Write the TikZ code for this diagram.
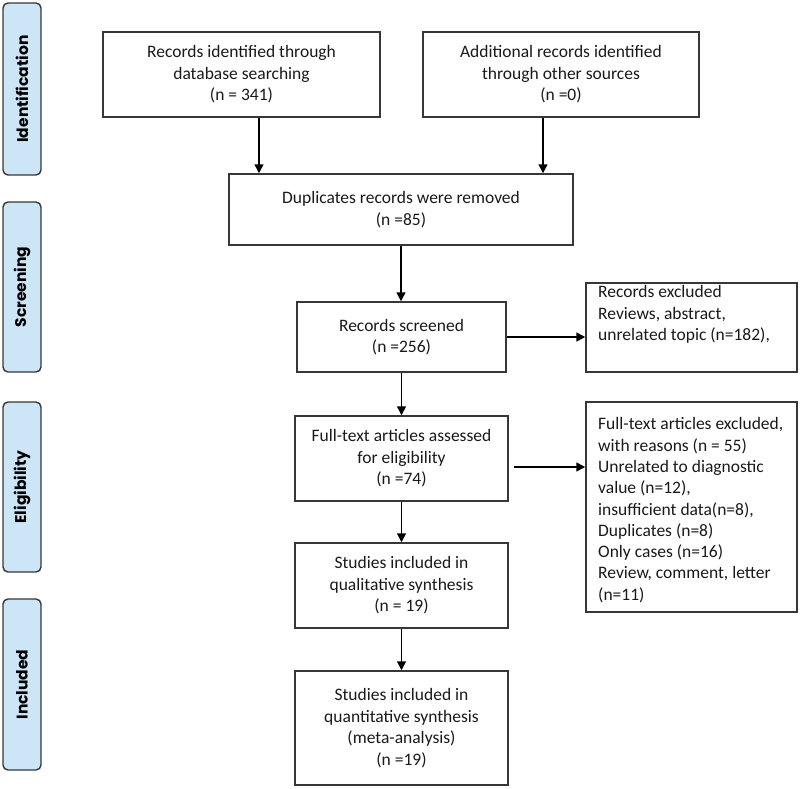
\documentclass[tikz,border=0pt]{standalone}
\usepackage{fontspec}
\setmainfont{Carlito}
\newfontfamily\sidefont{Poppins}
\usetikzlibrary{arrows.meta}
\definecolor{sideblue}{RGB}{204,229,247}
\definecolor{linegray}{RGB}{55,55,55}
\definecolor{txtgray}{RGB}{25,25,25}
\begin{document}
\begin{tikzpicture}[x=1pt,y=-1pt,
  box/.style={draw=linegray, line width=1.5pt, inner sep=0pt, align=center,
    text=txtgray, font=\fontsize{17.5}{21.5}\selectfont},
  sidebox/.style={draw=linegray, fill=sideblue, rounded corners=5pt, line width=1.4pt,
    minimum width=38pt, inner sep=0pt},
  sidetxt/.style={rotate=90, font=\sidefont\bfseries\fontsize{15.5}{18}\selectfont, text=black},
  lefttxt/.style={anchor=north west, inner sep=0pt, align=left, text=txtgray,
    font=\fontsize{17.5}{21.3}\selectfont},
  arr/.style={-{Triangle[length=9pt,width=9pt]}, line width=1.5pt, draw=black}
]
\useasboundingbox (0,0) rectangle (800,788);

% side labels
\node[sidebox, minimum height=172pt] (S1) at (22,89) {};
\node[sidetxt] at (S1.center) {Identification};
\node[sidebox, minimum height=170pt] (S2) at (22,287) {};
\node[sidetxt] at (S2.center) {Screening};
\node[sidebox, minimum height=170pt] (S3) at (22,487) {};
\node[sidetxt] at (S3.center) {Eligibility};
\node[sidebox, minimum height=171pt] (S4) at (22,684.5) {};
\node[sidetxt] at (S4.center) {Included};

% main boxes
\node[box, minimum width=277pt, minimum height=85pt] (A) at (241.5,74.5)
  {Records identified through\\database searching\\(n = 341)};
\node[box, minimum width=276pt, minimum height=85pt] (B) at (561,74.5)
  {Additional records identified\\through other sources\\(n =0)};
\node[box, minimum width=344pt, minimum height=71pt] (C) at (401,209.5)
  {Duplicates records were removed\\(n =85)};
\node[box, minimum width=209pt, minimum height=70pt] (D) at (401.5,337)
  {Records screened\\(n =256)};
\node[box, minimum width=213pt, minimum height=85pt] (E) at (401.5,458.5)
  {Full-text articles assessed\\for eligibility\\(n =74)};
\node[box, minimum width=213pt, minimum height=85pt] (H) at (401.5,585.5)
  {Studies included in\\qualitative synthesis\\(n = 19)};
\node[box, minimum width=213pt, minimum height=114pt] (I) at (401.5,728)
  {Studies included in\\quantitative synthesis\\(meta-analysis)\\(n =19)};

% exclusion boxes
\node[box, minimum width=211pt, minimum height=89pt] (F) at (691.5,327.5) {};
\node[lefttxt] (Ft) at (598,285.5)
  {Records excluded\\Reviews, abstract,\\unrelated topic (n=182),};
\node[box, minimum width=211pt, minimum height=210pt] (G) at (691.5,507) {};
\node[lefttxt] (Gt) at (598,417.5)
  {Full-text articles excluded,\\with reasons (n = 55)\\Unrelated to diagnostic\\value (n=12),\\insufficient data(n=8),\\Duplicates (n=8)\\Only cases (n=16)\\Review, comment, letter\\(n=11)};

% connectors
\draw[arr] ([xshift=17.5pt]A.south) -- ([xshift=17.5pt]A.south |- C.north);
\draw[arr] ([xshift=-18pt]B.south) -- ([xshift=-18pt]B.south |- C.north);
\draw[arr] (C.south) -- (C.south |- D.north);
\draw[arr] (D.south) -- (D.south |- E.north);
\draw[arr] (E.south) -- (E.south |- H.north);
\draw[arr] (H.south) -- (H.south |- I.north);
\draw[arr] (D.east) -- (D.east -| F.west);
\coordinate (Eo) at ([xshift=5pt,yshift=-8.5pt]E.east);
\draw[arr] (Eo) -- (Eo -| G.west);
\end{tikzpicture}
\end{document}
